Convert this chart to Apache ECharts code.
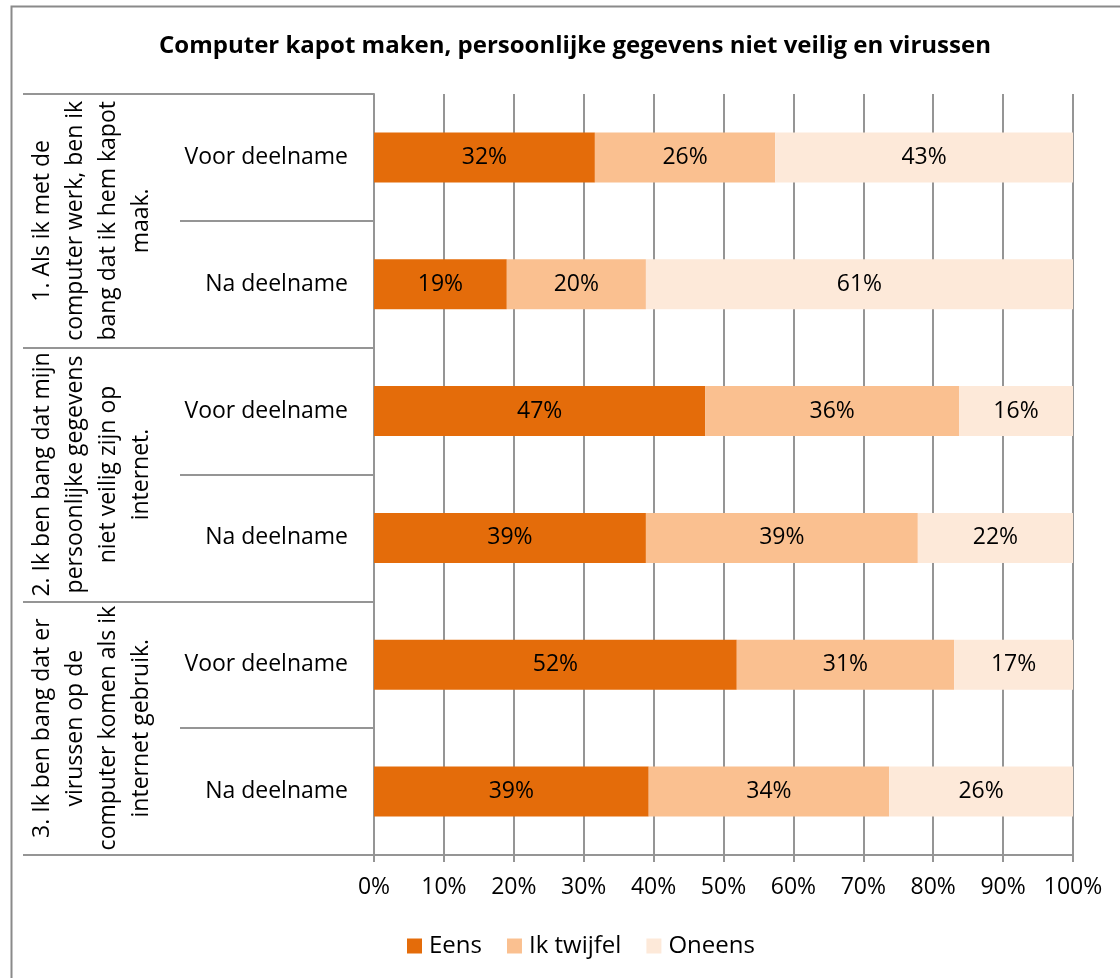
<!DOCTYPE html>
<html>
<head>
<meta charset="utf-8">
<script src="https://cdn.jsdelivr.net/npm/echarts@6/dist/echarts.min.js"></script>
<style>
html,body{margin:0;padding:0;background:#fff;}
#chart{width:1120px;height:978px;}
</style>
</head>
<body>
<div id="chart"></div>
<script>
// ---- data ----
const rowLabels = ['Voor deelname', 'Na deelname', 'Voor deelname', 'Na deelname', 'Voor deelname', 'Na deelname'];
const groupLabels = [
  '1. Als ik met de\ncomputer werk, ben ik\nbang dat ik hem kapot\nmaak.',
  '2. Ik ben bang dat mijn\npersoonlijke gegevens\nniet veilig zijn op\ninternet.',
  '3. Ik ben bang dat er\nvirussen op de\ncomputer komen als ik\ninternet gebruik.'
];
const seriesNames = ['Eens', 'Ik twijfel', 'Oneens'];
const eens     = [31.6, 19.0, 47.4, 38.9, 51.9, 39.3];
const twijfel  = [25.8, 19.9, 36.3, 38.9, 31.1, 34.4];
const oneens   = [42.6, 61.1, 16.3, 22.2, 17.0, 26.3];
const xTicks = [0, 10, 20, 30, 40, 50, 60, 70, 80, 90, 100];
const title = 'Computer kapot maken, persoonlijke gegevens niet veilig en virussen';

const FONT = 'Open Sans';
const GRID = '#959595';
const colors = ['#E46C0A', '#FAC090', '#FDE9D9'];
const values = [eens, twijfel, oneens];

const chart = echarts.init(document.getElementById('chart'), null, {renderer: 'canvas'});
chart.setOption({
  animation: false,
  textStyle: {fontFamily: FONT},
  graphic: [{
    type: 'rect', left: 9, top: 4, silent: true,
    shape: {width: 1130, height: 1000},
    style: {fill: 'none', stroke: '#8a8a8a', lineWidth: 2}
  }],
  title: {
    text: title, left: 570, top: 29, textAlign: 'center',
    textStyle: {fontFamily: FONT, fontWeight: 'bold', fontSize: 24, color: '#000'}
  },
  legend: {
    data: seriesNames, bottom: 15, left: 402,
    itemWidth: 15, itemHeight: 15, itemGap: 25, icon: 'rect',
    textStyle: {fontFamily: FONT, fontSize: 24, color: '#000', padding: [0, 0, 0, 2]}
  },
  grid: {left: 374, right: 47, top: 94, bottom: 123, containLabel: false, outerBoundsMode: 'none'},
  xAxis: {
    type: 'value', min: 0, max: 100, interval: 10,
    axisLine: {show: true, lineStyle: {color: GRID, width: 2}},
    axisTick: {show: true, length: 7, lineStyle: {color: GRID, width: 2}},
    splitLine: {show: true, lineStyle: {color: GRID, width: 2}},
    axisLabel: {
      margin: 21, fontFamily: FONT, fontSize: 23, color: '#000',
      formatter: v => v + '%'
    }
  },
  yAxis: [{
    type: 'category', data: rowLabels, inverse: true,
    axisLine: {show: true, lineStyle: {color: GRID, width: 2}},
    axisTick: {show: true, length: 194, interval: 0, alignWithLabel: false, lineStyle: {color: GRID, width: 2}},
    axisLabel: {interval: 0, margin: 26, fontFamily: FONT, fontSize: 23, color: '#000'}
  }, {
    type: 'category', data: groupLabels, inverse: true, position: 'left', offset: 194,
    axisLine: {show: false},
    axisTick: {show: true, length: 157, interval: 0, alignWithLabel: false, lineStyle: {color: GRID, width: 2}},
    axisLabel: {interval: 0, rotate: 90, margin: 22, fontFamily: FONT, fontSize: 23, lineHeight: 33, color: '#000', align: 'center'}
  }],
  series: seriesNames.map((name, i) => ({
    name, type: 'bar', stack: 'total', yAxisIndex: 0,
    data: values[i], barWidth: 50,
    itemStyle: {color: colors[i]},
    label: {
      show: true, position: 'inside', color: '#000',
      fontFamily: FONT, fontSize: 23,
      formatter: p => Math.round(p.value) + '%'
    }
  }))
});
</script>
</body>
</html>
